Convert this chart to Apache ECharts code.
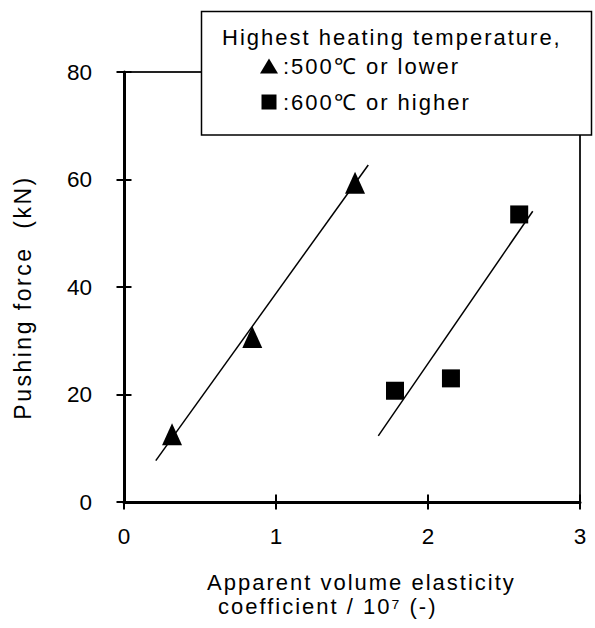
<!DOCTYPE html>
<html>
<head>
<meta charset="utf-8">
<script src="https://cdn.jsdelivr.net/npm/echarts@6/dist/echarts.min.js"></script>
<style>
  html, body { margin: 0; padding: 0; background: #fff; }
  #chart { width: 595px; height: 628px; }
  #chart svg text[style*="22px"] { letter-spacing: 2px; }
  #chart svg text[style*="23px"] { letter-spacing: 2.5px; }
</style>
</head>
<body>
<div id="chart"></div>
<script>
// ---- data ----
const lowTempName = ':500℃ or lower';
const highTempName = ':600℃ or higher';
const lowTempX = [0.316, 0.844, 1.520];
const lowTempY = [12.6, 30.7, 59.4];
const highTempX = [1.783, 2.151, 2.600];
const highTempY = [20.7, 23.0, 53.5];
const lowFitX = [0.209, 1.607];
const lowFitY = [7.7, 62.7];
const highFitX = [1.673, 2.689];
const highFitY = [12.3, 54.1];
const xRange = [0, 3, 1];   // min, max, interval
const yRange = [0, 80, 20];
const legendTitle = 'Highest heating temperature,';
const yTitle = 'Pushing force  (kN)';
const xTitle1 = 'Apparent volume elasticity';
const xTitle2 = 'coefficient / 10⁷ (-)';

const FONT = 'Liberation Sans';
const pairs = (xs, ys) => xs.map((x, i) => [x, ys[i]]);

const chart = echarts.init(document.getElementById('chart'), null, { renderer: 'svg' });

function mkAxis(range, inside, withLabels, margin, pos) {
  return {
    type: 'value',
    position: pos,
    min: range[0], max: range[1], interval: range[2],
    axisLine: { show: withLabels, onZero: false, lineStyle: { color: '#000', width: 3 } },
    axisTick: { show: true, inside: inside, length: 7.5, lineStyle: { color: '#000', width: 2 } },
    axisLabel: { show: withLabels, color: '#000', fontSize: 22.5, fontFamily: FONT, margin: margin },
    splitLine: { show: false }
  };
}

const option = {
  backgroundColor: '#fff',
  animation: false,
  grid: { left: 124, top: 72, right: 15, bottom: 126, show: true, borderColor: '#222', borderWidth: 2, backgroundColor: 'transparent' },
  xAxis: [mkAxis(xRange, false, true, 23, 'bottom'), mkAxis(xRange, true, false, 0, 'bottom')],
  yAxis: [mkAxis(yRange, false, true, 32, 'left'), mkAxis(yRange, true, false, 0, 'left')],
  legend: {
    show: true,
    orient: 'vertical',
    left: 260, top: 55,
    padding: 0,
    itemWidth: 18, itemHeight: 15, itemGap: 14,
    selectedMode: false,
    z: 20,
    textStyle: { color: '#000', fontSize: 22, fontFamily: FONT },
    data: [
      { name: lowTempName, icon: 'triangle', itemStyle: { color: '#000', opacity: 1 } },
      { name: highTempName, icon: 'path://M0 0h10v10h-10z', itemStyle: { color: '#000', opacity: 1 } }
    ]
  },
  graphic: [
    { type: 'rect', z: 10, shape: { x: 201.5, y: 11.5, width: 390, height: 123.5 },
      style: { fill: '#fff', stroke: '#000', lineWidth: 1.5 } },
    { type: 'text', z: 11, x: 222, y: 37.4,
      style: { text: legendTitle, fontSize: 22, fontFamily: FONT, fill: '#000', align: 'left', verticalAlign: 'middle' } },
    { type: 'text', z: 11, x: 23.3, y: 297.5, rotation: Math.PI / 2,
      style: { text: yTitle, fontSize: 23, fontFamily: FONT, fill: '#000', align: 'center', verticalAlign: 'middle' } },
    { type: 'text', z: 11, x: 207, y: 582.5,
      style: { text: xTitle1, fontSize: 22, fontFamily: FONT, fill: '#000', align: 'left', verticalAlign: 'middle' } },
    { type: 'text', z: 11, x: 218, y: 606,
      style: { text: xTitle2, fontSize: 22, fontFamily: FONT, fill: '#000', align: 'left', verticalAlign: 'middle' } }
  ],
  series: [
    { name: lowTempName, type: 'scatter', symbol: 'triangle', symbolSize: [20, 22],
      itemStyle: { color: '#000', opacity: 1 }, data: pairs(lowTempX, lowTempY), z: 3 },
    { name: highTempName, type: 'scatter', symbol: 'rect', symbolSize: 18,
      itemStyle: { color: '#000', opacity: 1 }, data: pairs(highTempX, highTempY), z: 3 },
    { name: 'fitLow', type: 'line', symbol: 'none', silent: true,
      lineStyle: { color: '#000', width: 1.5 }, data: pairs(lowFitX, lowFitY), z: 4 },
    { name: 'fitHigh', type: 'line', symbol: 'none', silent: true,
      lineStyle: { color: '#000', width: 1.5 }, data: pairs(highFitX, highFitY), z: 4 }
  ]
};
chart.setOption(option);
</script>
</body>
</html>
